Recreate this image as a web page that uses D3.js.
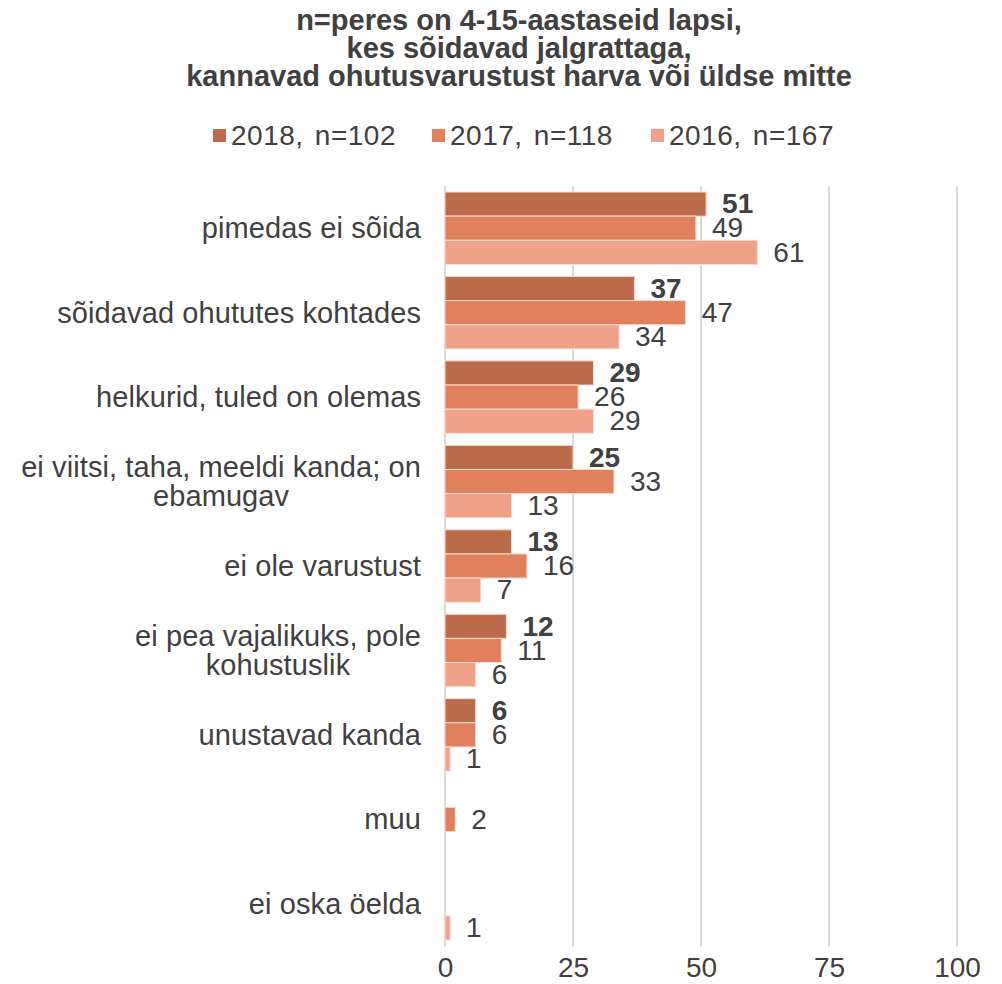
<!DOCTYPE html>
<html>
<head>
<meta charset="utf-8">
<script src="https://cdn.jsdelivr.net/npm/d3@7"></script>
<style>
  body { margin: 0; background: #fff; }
  text { font-family: "Liberation Sans", Arial, sans-serif; fill: #404040; }
</style>
</head>
<body>
<div id="my_dataviz"></div>
<script>
var categories = [
  ["pimedas ei sõida"],
  ["sõidavad ohututes kohtades"],
  ["helkurid, tuled on olemas"],
  ["ei viitsi, taha, meeldi kanda; on", "ebamugav"],
  ["ei ole varustust"],
  ["ei pea vajalikuks, pole", "kohustuslik"],
  ["unustavad kanda"],
  ["muu"],
  ["ei oska öelda"]
];
var seriesNames = ["2018, n=102", "2017, n=118", "2016, n=167"];
var values2018 = [51, 37, 29, 25, 13, 12, 6, null, null];
var values2017 = [49, 47, 26, 33, 16, 11, 6, 2, null];
var values2016 = [61, 34, 29, 13, 7, 6, 1, null, 1];
var xTicks = [0, 25, 50, 75, 100];
var titleLines = [
  "n=peres on 4-15-aastaseid lapsi,",
  "kes sõidavad jalgrattaga,",
  "kannavad ohutusvarustust harva või üldse mitte"
];

var colors = ["#bb6a4a", "#e0805c", "#f0a189"];
var allValues = [values2018, values2017, values2016];

var width = 1002, height = 984;

var svg = d3.select('#my_dataviz')
.append('svg')
.attr('width', width)
.attr('height', height);

// title
svg.append('g')
.selectAll('text')
.data(titleLines)
.enter()
.append('text')
.attr('x', 519)
.attr('y', function(d, i) { return 30 + i * 28; })
.attr('text-anchor', 'middle')
.style('font-size', '29px')
.style('font-weight', 'bold')
.text(function(d) { return d; });

// legend
var legend = svg.append('g')
.selectAll('g')
.data(seriesNames)
.enter()
.append('g')
.attr('transform', function(d, i) { return 'translate(' + (213 + i * 219) + ',0)'; });
legend.append('rect')
.attr('x', 0)
.attr('y', 129)
.attr('width', 13)
.attr('height', 13)
.style('fill', function(d, i) { return colors[i]; });
legend.append('text')
.attr('x', 18)
.attr('y', 145)
.style('font-size', '28px')
.style('letter-spacing', '0.5px')
.style('word-spacing', '3px')
.text(function(d) { return d; });

var x = d3.scaleLinear()
.domain([0, 100])
.range([445, 957]);

var y = d3.scaleBand()
.domain(d3.range(categories.length))
.range([186, 946]);

var y1 = d3.scaleBand()
.domain([0, 1, 2])
.range([6, y.bandwidth() - 6]);

// gridlines
svg.append('g')
.selectAll('line')
.data(xTicks)
.enter()
.append('line')
.attr('x1', function(d) { return x(d); })
.attr('x2', function(d) { return x(d); })
.attr('y1', 186)
.attr('y2', 947)
.style('stroke', '#d9d9d9')
.style('stroke-width', 2);

// x axis labels
var xAxis = svg.append('g')
.attr('transform', 'translate(0,' + 957 + ')')
.call(d3.axisBottom(x).tickValues(xTicks).tickSize(0).tickPadding(0));
xAxis.select('.domain').remove();
xAxis.selectAll('text')
.attr('dy', '0.71em')
.style('font-size', '28px')
.style('font-family', '"Liberation Sans", Arial, sans-serif')
.style('fill', '#404040');

// bars
var rows = [];
categories.forEach(function(c, ci) {
  allValues.forEach(function(vals, si) {
    if (vals[ci] != null) rows.push({cat: ci, s: si, value: vals[ci]});
  });
});

svg.append('g')
.selectAll('rect')
.data(rows)
.enter()
.append('rect')
.attr('x', x(0))
.attr('y', function(d) { return y(d.cat) + y1(d.s); })
.attr('width', function(d) { return x(d.value) - x(0); })
.attr('height', y1.bandwidth())
.style('fill', function(d) { return colors[d.s]; })
.style('stroke', '#f9ddd2')
.style('stroke-width', 1);

svg.append('g')
.selectAll('text')
.data(rows)
.enter()
.append('text')
.attr('x', function(d) { return x(d.value) + 16; })
.attr('y', function(d) { return y(d.cat) + y1(d.s) + y1.bandwidth() / 2; })
.attr('dy', '0.33em')
.style('font-size', '28px')
.style('font-weight', function(d) { return d.s == 0 ? 'bold' : 'normal'; })
.text(function(d) { return d.value; });

// category labels
var labelRight = 421;
var lineH = 29;
var catG = svg.append('g')
.selectAll('g')
.data(categories)
.enter()
.append('g');

catG.each(function(lines, ci) {
  var g = d3.select(this);
  var cy = y(ci) + y.bandwidth() / 2;
  var texts = lines.map(function(l, li) {
    return g.append('text')
    .attr('y', cy + (li - (lines.length - 1) / 2) * lineH)
    .attr('dy', '0.35em')
    .style('font-size', '29px')
    .style('letter-spacing', '0.1px')
    .text(l);
  });
  var maxW = d3.max(texts, function(t) { return t.node().getComputedTextLength(); });
  texts.forEach(function(t) {
    t.attr('x', labelRight - maxW / 2).attr('text-anchor', 'middle');
  });
});
</script>
</body>
</html>
